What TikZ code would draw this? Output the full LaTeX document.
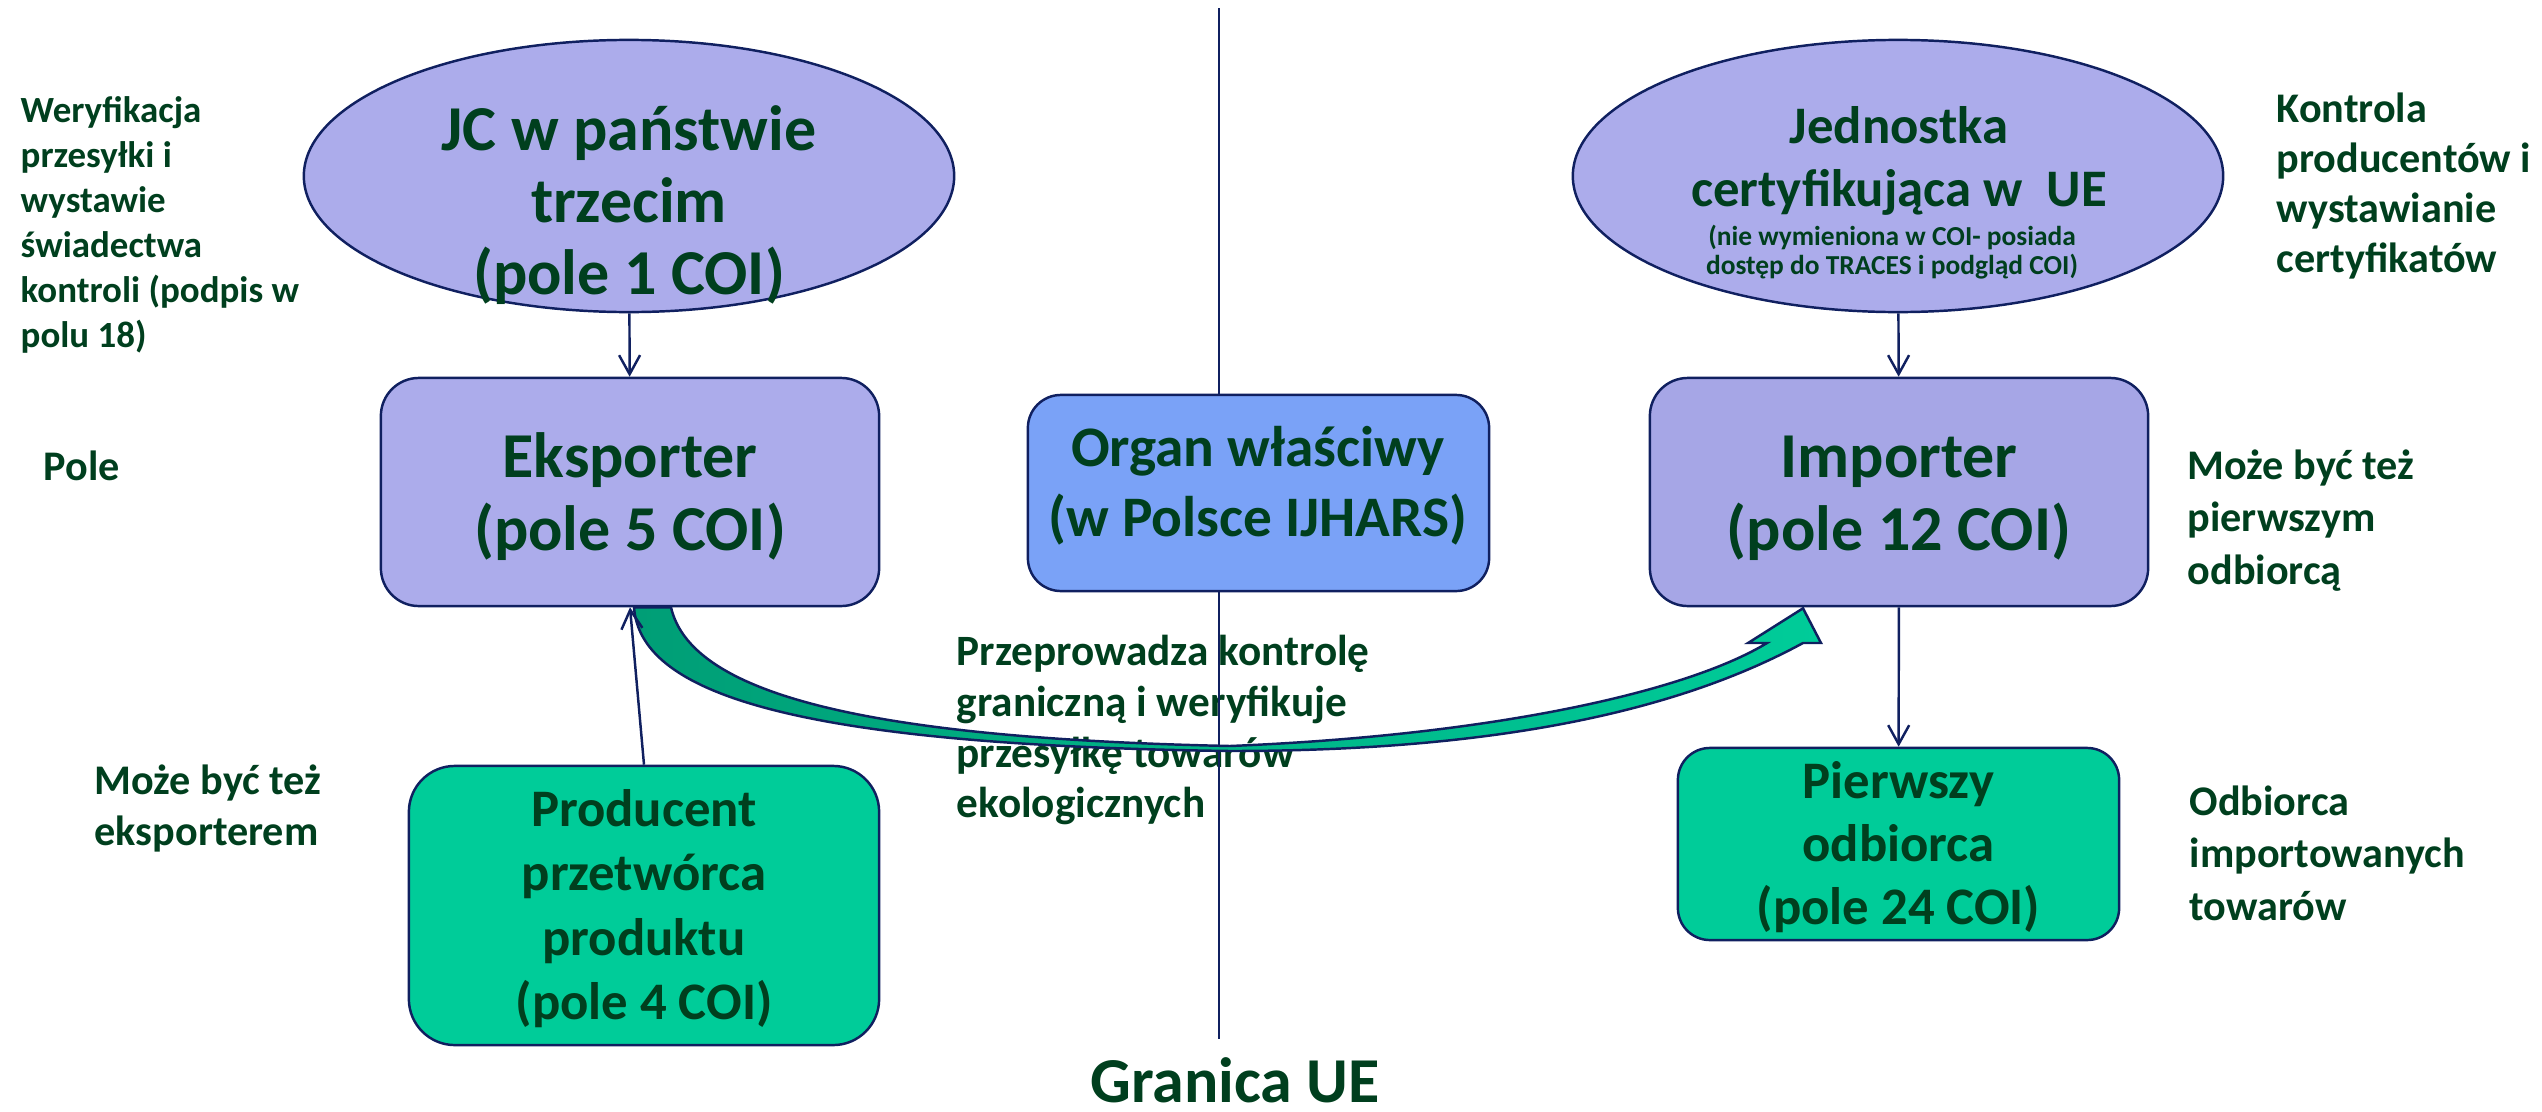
\documentclass[tikz,border=0pt]{standalone}
\usepackage{fontspec}
\setmainfont{Carlito}
\usetikzlibrary{shapes.geometric,arrows.meta,calc}
\definecolor{navy}{RGB}{16,32,96}
\definecolor{txt}{RGB}{0,63,30}
\definecolor{lav}{RGB}{172,172,235}
\definecolor{lavtwo}{RGB}{166,166,230}
\definecolor{sky}{RGB}{122,162,247}
\definecolor{mint}{RGB}{0,204,153}
\definecolor{mintdark}{RGB}{0,158,118}
\newcommand\fsz[2]{\fontsize{#1}{#2}\selectfont}
\newcommand\tst{\rule{0pt}{1em}}
\begin{document}
\begin{tikzpicture}[x=0.01cm,y=-0.01cm,
  box/.style={draw=navy, line width=0.7pt, rounded corners=#1, inner sep=0pt},
  ell/.style={ellipse, draw=navy, line width=0.7pt, fill=lav, inner sep=0pt, minimum width=6.5cm, minimum height=2.72cm},
  lbl/.style={inner sep=0pt, text=txt, align=left, anchor=north west},
  ctr/.style={inner sep=0pt, text=txt, align=center, anchor=north},
  conn/.style={draw=navy, line width=0.7pt, -{Straight Barb[length=0.19cm,width=0.21cm]}}]
\useasboundingbox (0,0) rectangle (2542,1112);

% side labels
\node[lbl, font=\bfseries\fsz{10.5}{12.8}] (l1) at (20,85) {\tst Weryfikacja\\przesyłki i\\wystawie\\świadectwa\\kontroli (podpis w\\polu 18)};
\node[lbl, font=\bfseries\fsz{12}{14.5}] (l2) at (43,438) {\tst Pole};
\node[lbl, font=\bfseries\fsz{12}{14.5}] (l3) at (94,752) {\tst Może być też\\eksporterem};
\node[lbl, font=\bfseries\fsz{12.3}{14.4}] (l4) at (956,622) {\tst Przeprowadza kontrolę\\graniczną i weryfikuje\\przesyłkę towarów\\ekologicznych};
\node[lbl, font=\bfseries\fsz{12}{14.2}] (l5) at (2276,80) {\tst Kontrola\\producentów i\\wystawianie\\certyfikatów};
\node[lbl, font=\bfseries\fsz{12}{14.8}] (l6) at (2187,437) {\tst Może być też\\pierwszym\\odbiorcą};
\node[lbl, font=\bfseries\fsz{12}{14.8}] (l7) at (2189,773) {\tst Odbiorca\\importowanych\\towarów};

% border line
\coordinate (btop) at (1219,8);
\coordinate (bbot) at (1219,1039);
\draw[navy, line width=0.6pt] (btop) -- (bbot);

% shapes
\node[ell] (jc) at (629,176) {};
\node[ell] (eu) at (1898,176) {};
\node[box=0.38cm, fill=lav, minimum width=4.98cm, minimum height=2.28cm] (exp) at (630,492) {};
\node[box=0.38cm, fill=lavtwo, minimum width=4.98cm, minimum height=2.28cm] (imp) at (1899,492) {};
\node[box=0.33cm, fill=sky, minimum width=4.61cm, minimum height=1.96cm] (org) at (1258.5,493) {};
\node[box=0.46cm, fill=mint, minimum width=4.70cm, minimum height=2.79cm] (prod) at (644,905.5) {};
\node[box=0.32cm, fill=mint, minimum width=4.41cm, minimum height=1.92cm] (pier) at (1898.5,844) {};

% big curved arrow
\path[draw=navy, line width=0.7pt, left color=mintdark, right color=mint]
  ($(exp.south)+(4,0)$) .. controls (640,690) and (780,745) .. (1230,751)
  .. controls (1500,751) and (1680,710) .. (1803,643)
  -- (1821,643) -- ($(imp.south)+(-96,1)$) -- (1748,643) -- (1767,643)
  .. controls (1690,690) and (1500,735) .. (1230,746)
  .. controls (850,738) and (690,690) .. ($(exp.south)+(41,0)$) -- cycle;

% connectors
\draw[conn] (jc) -- (exp);
\draw[conn] (eu) -- (imp);
\draw[conn] (imp) -- (pier);
\draw[conn] (prod.north) -- (exp.south);

% box texts
\node[ctr, font=\bfseries\fsz{18.2}{20.5}] (jct) at (629,86) {\tst JC w państwie\\trzecim\\(pole 1 COI)};
\node[ctr, font=\bfseries\fsz{15}{18}] (eut) at (1899,90) {\tst Jednostka\\certyfikująca w\ \ UE};
\node[ctr, font=\bfseries\fsz{7.8}{8.4}] (eus) at (1892,217) {\tst (nie wymieniona w COI- posiada\\dostęp do TRACES i podgląd COI)};
\node[ctr, font=\bfseries\fsz{18.2}{20.8}] (expt) at (630,413) {\tst Eksporter\\(pole 5 COI)};
\node[ctr, font=\bfseries\fsz{18.2}{20.8}] (impt) at (1899,413) {\tst Importer\\(pole 12 COI)};
\node[ctr, font=\bfseries\fsz{16.3}{19.9}] (orgt) at (1258,408) {\tst Organ właściwy\\(w Polsce IJHARS)};
\node[ctr, font=\bfseries\fsz{15}{18.3}] (prodt) at (644,773) {\tst Producent\\przetwórca\\produktu\\(pole 4 COI)};
\node[ctr, font=\bfseries\fsz{15}{17.9}] (piert) at (1898.5,745) {\tst Pierwszy\\odbiorca\\(pole 24 COI)};
\node[ctr, font=\bfseries\fsz{18.2}{20.5}] (gran) at (1235,1038) {\tst Granica UE};
\end{tikzpicture}
\end{document}
